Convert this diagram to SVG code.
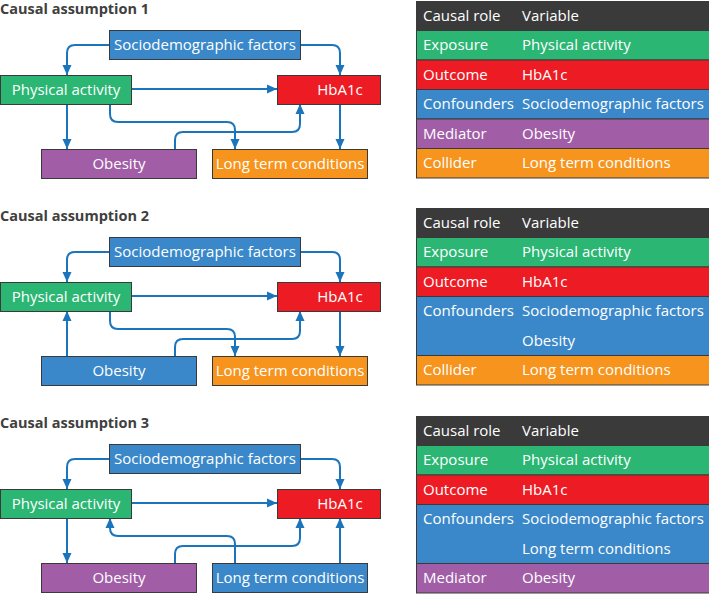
<svg xmlns="http://www.w3.org/2000/svg" width="709" height="594" viewBox="0 0 709 594">
<defs>
<style>
.t{font-family:"Open Sans","Noto Sans",sans-serif;font-size:15px;fill:#fff}
.c{text-anchor:middle}
.title{font-family:"Open Sans","Noto Sans",sans-serif;font-size:14.5px;font-weight:bold;fill:#404040}
.bx{stroke:#3a3a3a;stroke-width:1}
.g{fill:#2bb673}.r{fill:#ed1c24}.b{fill:#3a88c9}.p{fill:#a15ea6}.o{fill:#f7941d}.h{fill:#3a3a3a}
.a{fill:none;stroke:#1b75bc;stroke-width:2;marker-end:url(#ah)}
</style>
<marker id="ah" markerUnits="userSpaceOnUse" markerWidth="10" markerHeight="10" refX="10" refY="5" orient="auto">
<path d="M0,0.5 L10,5 L0,9.5 z" fill="#1b75bc"/>
</marker>
</defs>
<rect width="709" height="594" fill="#fff"/>

<!-- Diagram 1 -->
<text class="title" x="0" y="14">Causal assumption 1</text>
<g id="connectors1">
<path class="a" d="M109,45 H75 Q67,45 67,53 V75"/>
<path class="a" d="M301,45 H332 Q340,45 340,53 V75"/>
<path class="a" d="M132,89 H277"/>
<path class="a" d="M67,104 V149"/>
<path class="a" d="M110,104 V114 Q110,122 118,122 H227 Q235,122 235,130 V149"/>
<path class="a" d="M175,149 V140 Q175,132 183,132 H292 Q300,132 300,124 V104"/>
<path class="a" d="M340,104 V149"/>
</g>
<g id="d1-socio"><rect class="bx b" x="109.5" y="30.5" width="191" height="29"/><text class="t c" x="205" y="50">Sociodemographic factors</text></g>
<g id="d1-pa"><rect class="bx g" x="0.5" y="75.5" width="131" height="29"/><text class="t c" x="66" y="95">Physical activity</text></g>
<g id="d1-hba1c"><rect class="bx r" x="277.5" y="75.5" width="103" height="29"/><text class="t c" x="340" y="95">HbA1c</text></g>
<g id="d1-obesity"><rect class="bx p" x="41.5" y="149.5" width="155" height="29"/><text class="t c" x="119" y="169">Obesity</text></g>
<g id="d1-ltc"><rect class="bx o" x="212.5" y="149.5" width="155" height="29"/><text class="t c" x="290" y="169">Long term conditions</text></g>
<g id="table1">
<rect class="bx h" x="416.5" y="1.5" width="293" height="29"/>
<rect class="bx g" x="416.5" y="30.5" width="293" height="29.5"/>
<rect class="bx r" x="416.5" y="60" width="293" height="29.5"/>
<rect class="bx b" x="416.5" y="89.5" width="293" height="29.5"/>
<rect class="bx p" x="416.5" y="119" width="293" height="29.5"/>
<rect class="bx o" x="416.5" y="148.5" width="293" height="29.5"/>
<text class="t" x="423" y="21">Causal role</text><text class="t" x="522" y="21">Variable</text>
<text class="t" x="423" y="50">Exposure</text><text class="t" x="522" y="50">Physical activity</text>
<text class="t" x="423" y="80">Outcome</text><text class="t" x="522" y="80">HbA1c</text>
<text class="t" x="423" y="109">Confounders</text><text class="t" x="522" y="109">Sociodemographic factors</text>
<text class="t" x="423" y="139">Mediator</text><text class="t" x="522" y="139">Obesity</text>
<text class="t" x="423" y="168">Collider</text><text class="t" x="522" y="168">Long term conditions</text>
</g>

<!-- Diagram 2 -->
<text class="title" x="0" y="221">Causal assumption 2</text>
<g id="connectors2">
<path class="a" d="M109,252 H75 Q67,252 67,260 V282"/>
<path class="a" d="M301,252 H332 Q340,252 340,260 V282"/>
<path class="a" d="M132,296 H277"/>
<path class="a" d="M67,356 V311"/>
<path class="a" d="M110,311 V321 Q110,329 118,329 H227 Q235,329 235,337 V356"/>
<path class="a" d="M175,356 V347 Q175,339 183,339 H292 Q300,339 300,331 V311"/>
<path class="a" d="M340,311 V356"/>
</g>
<g id="d2-socio"><rect class="bx b" x="109.5" y="237.5" width="191" height="29"/><text class="t c" x="205" y="257">Sociodemographic factors</text></g>
<g id="d2-pa"><rect class="bx g" x="0.5" y="282.5" width="131" height="29"/><text class="t c" x="66" y="302">Physical activity</text></g>
<g id="d2-hba1c"><rect class="bx r" x="277.5" y="282.5" width="103" height="29"/><text class="t c" x="340" y="302">HbA1c</text></g>
<g id="d2-obesity"><rect class="bx b" x="41.5" y="356.5" width="155" height="29"/><text class="t c" x="119" y="376">Obesity</text></g>
<g id="d2-ltc"><rect class="bx o" x="212.5" y="356.5" width="155" height="29"/><text class="t c" x="290" y="376">Long term conditions</text></g>
<g id="table2">
<rect class="bx h" x="416.5" y="208.5" width="293" height="29"/>
<rect class="bx g" x="416.5" y="237.5" width="293" height="29.5"/>
<rect class="bx r" x="416.5" y="267" width="293" height="29.5"/>
<rect class="bx b" x="416.5" y="296.5" width="293" height="59"/>
<rect class="bx o" x="416.5" y="355.5" width="293" height="29.5"/>
<text class="t" x="423" y="228">Causal role</text><text class="t" x="522" y="228">Variable</text>
<text class="t" x="423" y="257">Exposure</text><text class="t" x="522" y="257">Physical activity</text>
<text class="t" x="423" y="287">Outcome</text><text class="t" x="522" y="287">HbA1c</text>
<text class="t" x="423" y="316">Confounders</text><text class="t" x="522" y="316">Sociodemographic factors</text>
<text class="t" x="522" y="346">Obesity</text>
<text class="t" x="423" y="375">Collider</text><text class="t" x="522" y="375">Long term conditions</text>
</g>

<!-- Diagram 3 -->
<text class="title" x="0" y="428">Causal assumption 3</text>
<g id="connectors3">
<path class="a" d="M109,459 H75 Q67,459 67,467 V489"/>
<path class="a" d="M301,459 H332 Q340,459 340,467 V489"/>
<path class="a" d="M132,503 H277"/>
<path class="a" d="M67,518 V563"/>
<path class="a" d="M235,563 V544 Q235,536 227,536 H118 Q110,536 110,528 V518"/>
<path class="a" d="M175,563 V554 Q175,546 183,546 H292 Q300,546 300,538 V518"/>
<path class="a" d="M340,563 V518"/>
</g>
<g id="d3-socio"><rect class="bx b" x="109.5" y="444.5" width="191" height="29"/><text class="t c" x="205" y="464">Sociodemographic factors</text></g>
<g id="d3-pa"><rect class="bx g" x="0.5" y="489.5" width="131" height="29"/><text class="t c" x="66" y="509">Physical activity</text></g>
<g id="d3-hba1c"><rect class="bx r" x="277.5" y="489.5" width="103" height="29"/><text class="t c" x="340" y="509">HbA1c</text></g>
<g id="d3-obesity"><rect class="bx p" x="41.5" y="563.5" width="155" height="29"/><text class="t c" x="119" y="583">Obesity</text></g>
<g id="d3-ltc"><rect class="bx b" x="212.5" y="563.5" width="155" height="29"/><text class="t c" x="290" y="583">Long term conditions</text></g>
<g id="table3">
<rect class="bx h" x="416.5" y="416.5" width="293" height="29"/>
<rect class="bx g" x="416.5" y="445.5" width="293" height="29.5"/>
<rect class="bx r" x="416.5" y="475" width="293" height="29.5"/>
<rect class="bx b" x="416.5" y="504.5" width="293" height="59"/>
<rect class="bx p" x="416.5" y="563.5" width="293" height="29.5"/>
<text class="t" x="423" y="436">Causal role</text><text class="t" x="522" y="436">Variable</text>
<text class="t" x="423" y="465">Exposure</text><text class="t" x="522" y="465">Physical activity</text>
<text class="t" x="423" y="495">Outcome</text><text class="t" x="522" y="495">HbA1c</text>
<text class="t" x="423" y="524">Confounders</text><text class="t" x="522" y="524">Sociodemographic factors</text>
<text class="t" x="522" y="554">Long term conditions</text>
<text class="t" x="423" y="583">Mediator</text><text class="t" x="522" y="583">Obesity</text>
</g>
</svg>
